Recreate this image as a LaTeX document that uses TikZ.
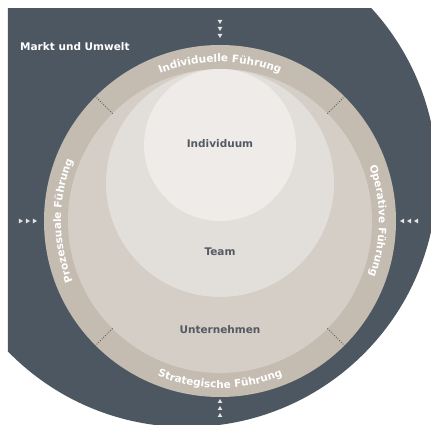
\documentclass[tikz,border=0pt]{standalone}
\usepackage{fontspec}
\setmainfont{DejaVu Sans}
\usetikzlibrary{decorations.text}
\definecolor{slate}{HTML}{4D5761}
\definecolor{ringc}{HTML}{C4BBB1}
\definecolor{untc}{HTML}{D5CEC7}
\definecolor{teamc}{HTML}{E2DEDA}
\definecolor{indc}{HTML}{EEEBE8}
\definecolor{labc}{HTML}{535A63}
\definecolor{tric}{HTML}{E6E6E6}
\definecolor{sepc}{HTML}{50565E}
\tikzset{
  inlabel/.style={font=\fontsize{10.5}{12}\selectfont\bfseries, text=labc, inner sep=0pt},
  outlabel/.style={font=\fontsize{10.5}{12}\selectfont\bfseries, text=white, inner sep=0pt},
  sepline/.style={draw=sepc, dash pattern=on 0.8pt off 1.6pt, line width=0.9pt},
  arctext/.style={decorate, decoration={text along path, text align=center,
     text={|\fontsize{10.5}{12}\selectfont\bfseries\color{white}|#1}}},
  arrowtri/.pic={\fill[tric] (0,-2) -- (2.3,2) -- (-2.3,2) -- cycle;}
}
\begin{document}
\begin{tikzpicture}[x=1pt,y=1pt]
\useasboundingbox (-220,-204) rectangle (211,221);
\begin{scope}
  \clip (-212,-204) rectangle (211,212);
  \fill[slate] (-33,44) circle[radius=250];
\end{scope}
\fill[ringc] (0,0) circle[radius=176];
\fill[untc] (0,0) circle[radius=152];
\fill[teamc] (0,38) circle[radius=114];
\fill[indc] (0,76) circle[radius=76];
\foreach \a in {45,135,225,315} \draw[sepline] (\a:152) -- (\a:176);
\node[inlabel] (ind) at (0,77) {Individuum};
\node[inlabel] (team) at (0,-31) {Team};
\node[inlabel] (unt) at (0,-109) {Unternehmen};
\node[outlabel, anchor=west] (markt) at (-200,174) {Markt und Umwelt};
\path[arctext={Individuelle Führung}] (150:159) arc[start angle=150, end angle=30, radius=159];
\path[arctext={Operative Führung}] (40:159) arc[start angle=40, end angle=-40, radius=159];
\path[arctext={Prozessuale Führung}] (220:159) arc[start angle=220, end angle=140, radius=159];
\path[arctext={Strategische Führung}] (210:167) arc[start angle=210, end angle=330, radius=167];
\foreach \y in {199,192,185} \pic at (0,\y) {arrowtri};
\foreach \y in {-180,-187,-194} \pic[rotate=180] at (0,\y) {arrowtri};
\foreach \x in {-199,-192,-185} \pic[rotate=90] at (\x,0) {arrowtri};
\foreach \x in {182,189,196} \pic[rotate=-90] at (\x,0) {arrowtri};
\end{tikzpicture}
\end{document}
